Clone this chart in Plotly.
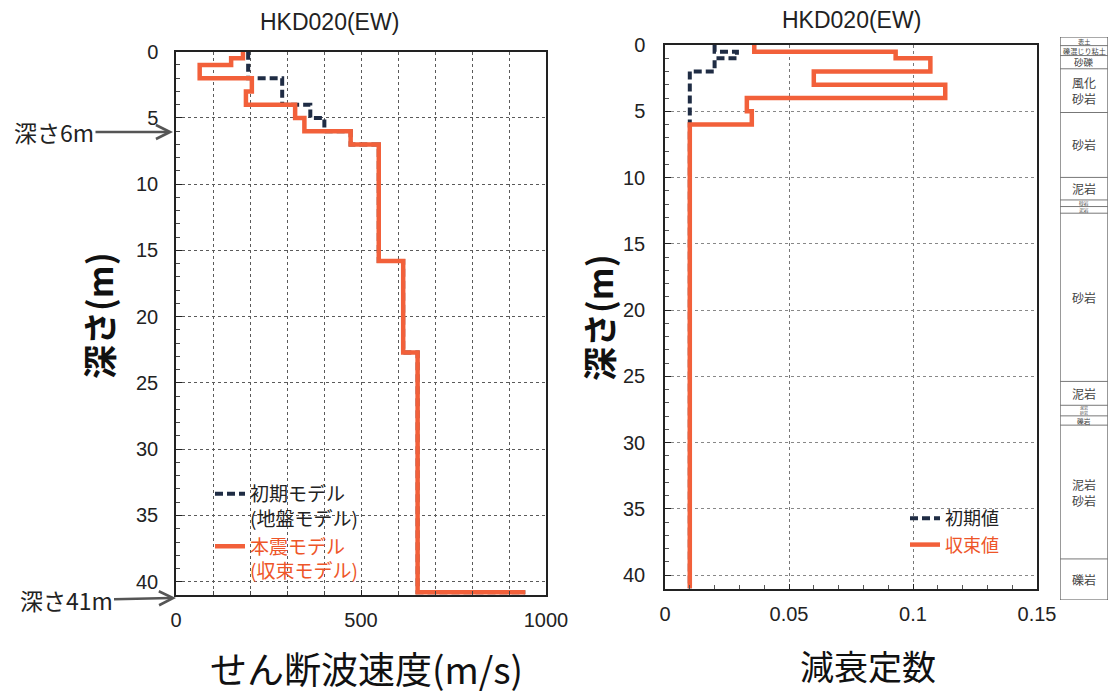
import plotly.graph_objects as go

# ---------------- data ----------------
# Shear-wave velocity profile (m/s) : layer tops (m) and values
vs_init_top = [0, 2, 4, 5, 6, 7, 15.8, 22.7, 40.8]
vs_init_val = [195, 287, 363, 401, 472, 548, 614, 653, 944]
vs_final_top = [0, 0.5, 1, 2, 3, 4, 5, 6, 7, 15.8, 22.7, 40.8]
vs_final_val = [181, 149, 64, 205, 189, 322, 347, 472, 548, 614, 653, 944]

# Damping profile : layer tops (m) and values
h_init_top = [0, 0.5, 1, 2, 41]
h_init_val = [0.020, 0.029, 0.020, 0.010, 0.010]
h_final_top = [0, 0.5, 1, 2, 3, 4, 5, 6, 41]
h_final_val = [0.036, 0.093, 0.107, 0.060, 0.113, 0.033, 0.035, 0.010, 0.010]

# Geological column : boundaries (m) and labels
geo_bounds = [-0.6, 0.05, 0.8, 1.8, 5.1, 10.0, 11.7, 12.2, 12.7, 25.4, 27.2, 28.0, 28.7, 38.8, 41.9]
geo_labels = ["表土", "礫混じり粘土", "砂礫", "風化<br>砂岩", "砂岩", "泥岩", "砂岩", "泥岩",
              "砂岩", "泥岩", "泥岩<br>砂岩", "礫岩", "泥岩<br>砂岩", "礫岩"]

title_text = "HKD020(EW)"
vs_names = ["初期モデル<br>(地盤モデル)", "本震モデル<br>(収束モデル)"]
h_names = ["初期値", "収束値"]
arrow_labels = ["深さ6m", "深さ41m"]

# ---------------- style ----------------
W, H = 1115, 695
CJK = "Noto Sans CJK JP"
LAT = "Liberation Sans"
ORANGE = "#F2603A"
ORANGE_TXT = "#EE5528"
NAVY = "#1F2C44"
GRID = "#5a5a5a"
PX_PER_M = (589 - 45) / 41.05


def px_x(p):
    return p / W


def px_y(p):
    return 1 - p / H


def colored(s, c):
    return "<br>".join(f"<span style='color:{c}'>{part}</span>" for part in s.split("<br>"))


fig = go.Figure()

# Vs traces
fig.add_trace(go.Scatter(x=vs_init_val, y=vs_init_top, mode="lines", line_shape="vh",
                         line=dict(color=NAVY, width=4, dash="8px,4px"),
                         name=vs_names[0], legend="legend", legendgroup="a",
                         xaxis="x", yaxis="y"))
fig.add_trace(go.Scatter(x=vs_final_val, y=vs_final_top, mode="lines", line_shape="vh",
                         line=dict(color=ORANGE, width=4.5),
                         name=colored(vs_names[1], ORANGE_TXT), legend="legend", legendgroup="b",
                         xaxis="x", yaxis="y"))
# damping traces
fig.add_trace(go.Scatter(x=h_init_val, y=h_init_top, mode="lines", line_shape="vh",
                         line=dict(color=NAVY, width=4, dash="8px,4px"),
                         name=h_names[0], legend="legend2", legendgroup="c",
                         xaxis="x2", yaxis="y2"))
fig.add_trace(go.Scatter(x=h_final_val, y=h_final_top, mode="lines", line_shape="vh",
                         line=dict(color=ORANGE, width=4.5),
                         name=colored(h_names[1], ORANGE_TXT), legend="legend2", legendgroup="d",
                         xaxis="x2", yaxis="y2"))

tickfont = dict(family=LAT, size=20, color="#222")
common_axis = dict(showline=True, linecolor="#222", linewidth=1.5, mirror=True,
                   zeroline=False, tickfont=tickfont, automargin=False)

layout = dict(
    width=W, height=H, margin=dict(l=0, r=0, t=0, b=0, pad=0, autoexpand=False),
    paper_bgcolor="white", plot_bgcolor="white", showlegend=True,
    xaxis=dict(domain=[px_x(176), px_x(546)], range=[0, 1000], dtick=500, tick0=0,
               showgrid=True, gridcolor=GRID, griddash="dot", gridwidth=1,
               ticks="inside", ticklen=5, tickcolor="#222", ticklabelstandoff=6,
               minor=dict(dtick=100, showgrid=True, gridcolor=GRID, griddash="dot",
                          ticks="inside", ticklen=4, tickcolor="#444"),
               anchor="y", **common_axis),
    yaxis=dict(domain=[px_y(595), px_y(51.7)], range=[41, 0], dtick=5, tick0=0,
               showgrid=True, gridcolor=GRID, griddash="dot", gridwidth=1,
               ticks="inside", ticklen=6, tickcolor="#222", ticklabelstandoff=12,
               minor=dict(dtick=1, ticks="inside", ticklen=4, tickcolor="#444", showgrid=False),
               anchor="x", **common_axis),
    xaxis2=dict(domain=[px_x(665), px_x(1037)], range=[0, 0.15], dtick=0.05, tick0=0,
                showgrid=True, gridcolor="#777", griddash="dot", gridwidth=1,
                ticks="inside", ticklen=5, tickcolor="#222", ticklabelstandoff=6,
                minor=dict(dtick=0.01, ticks="inside", ticklen=4, tickcolor="#555", showgrid=False),
                anchor="y2", **common_axis),
    yaxis2=dict(domain=[px_y(589), px_y(45)], range=[41.05, 0], dtick=5, tick0=0,
                showgrid=True, gridcolor="#888", griddash="dot", gridwidth=1,
                ticks="inside", ticklen=6, tickcolor="#222", ticklabelstandoff=14,
                minor=dict(dtick=1, ticks="inside", ticklen=4, tickcolor="#555", showgrid=False),
                anchor="x2", **common_axis),
    xaxis3=dict(domain=[px_x(1060), px_x(1108)], range=[0, 1], visible=False, anchor="y3"),
    yaxis3=dict(domain=[px_y(600), px_y(37)], range=[geo_bounds[-1], geo_bounds[0]],
                visible=False, anchor="x3"),
    legend=dict(x=px_x(210), y=px_y(475), xanchor="left", yanchor="top",
                bgcolor="rgba(0,0,0,0)", font=dict(family=CJK, size=19, color="#222"),
                valign="top", tracegroupgap=0, itemwidth=30),
    legend2=dict(x=px_x(905), y=px_y(500), xanchor="left", yanchor="top",
                 bgcolor="rgba(0,0,0,0)", font=dict(family=CJK, size=18, color="#222"),
                 valign="middle", tracegroupgap=0, itemwidth=30),
)
fig.update_layout(**layout)

annotations = []


def text_at(text, xc, yc, font, angle=0):
    annotations.append(dict(text=text, x=px_x(xc), y=px_y(yc), xref="paper", yref="paper",
                            xanchor="center", yanchor="middle", showarrow=False,
                            textangle=angle, font=font))


# panel titles
text_at(title_text, 329, 22, dict(family=LAT, size=23, color="#222"))
text_at(title_text, 851, 20, dict(family=LAT, size=23, color="#222"))
# axis titles
for xc, yc in [(98, 316), (598, 318)]:
    text_at("深さ(m)", xc, yc, dict(family=CJK, size=34, color="#111", weight="bold"), angle=-90)
text_at("せん断波速度(m/s)", 366, 668, dict(family=CJK, size=37, color="#111"))
text_at("減衰定数", 868, 665, dict(family=CJK, size=34, color="#111"))

# depth arrows
annotations.append(dict(text=arrow_labels[0], x=px_x(173), y=px_y(132), xref="paper", yref="paper",
                        showarrow=True, ax=-119, ay=0, arrowhead=5, arrowsize=1.1, arrowwidth=2.5,
                        arrowcolor="#555", font=dict(family=CJK, size=23, color="#222")))
annotations.append(dict(text=arrow_labels[1], x=px_x(176), y=px_y(598), xref="paper", yref="paper",
                        showarrow=True, ax=-110, ay=2, arrowhead=5, arrowsize=1.1, arrowwidth=2.5,
                        arrowcolor="#555", font=dict(family=CJK, size=23, color="#222")))

# geological column
shapes = []
shapes.append(dict(type="rect", xref="x3", yref="y3", x0=0, x1=1, y0=geo_bounds[0], y1=geo_bounds[-1],
                   line=dict(color="#555", width=1.2), fillcolor="rgba(0,0,0,0)"))
for b in geo_bounds[1:-1]:
    shapes.append(dict(type="line", xref="x3", yref="y3", x0=0, x1=1, y0=b, y1=b,
                       line=dict(color="#777", width=1)))
for i, lab in enumerate(geo_labels):
    top, bot = geo_bounds[i], geo_bounds[i + 1]
    thick_px = (bot - top) * PX_PER_M
    nlines = lab.count("<br>") + 1
    size = max(4, min(12, 0.72 * thick_px / nlines))
    annotations.append(dict(text=lab, x=0.5, y=(top + bot) / 2, xref="x3", yref="y3",
                            xanchor="center", yanchor="middle", showarrow=False,
                            font=dict(family=CJK, size=size, color="#444")))

fig.update_layout(annotations=annotations, shapes=shapes)

fig.write_html("out.html", config={"displayModeBar": False},
               post_script="document.body.style.margin='0';")
